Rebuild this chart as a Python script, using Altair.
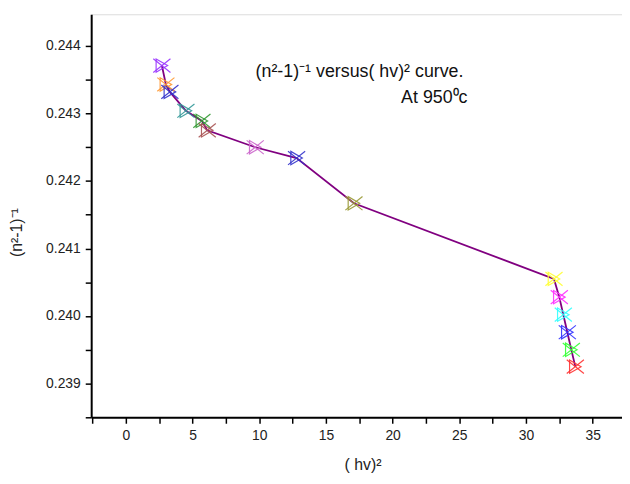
import altair as alt
import pandas as pd

hv2 = [2.7, 3.0, 3.3, 4.5, 5.7, 6.1, 9.7, 12.8, 17.1, 32.1, 32.5, 32.8, 33.1, 33.4, 33.7]
inv_n = [0.24371, 0.24343, 0.24332, 0.24304, 0.24289, 0.24275, 0.24250, 0.24234,
         0.24167, 0.24055, 0.24028, 0.24002, 0.23976, 0.23950, 0.23925]
colors = ["#9933ff", "#ff9933", "#3333cc", "#339999", "#339933", "#aa5555", "#cc66cc",
          "#3333cc", "#999933", "#ffff33", "#ff33ff", "#33ffff", "#3333ff", "#33ff33", "#ff3333"]

x_major = [0, 5, 10, 15, 20, 25, 30, 35]
x_minor = [-2.5, 2.5, 7.5, 12.5, 17.5, 22.5, 27.5, 32.5, 37.5]
y_major = [0.239, 0.240, 0.241, 0.242, 0.243, 0.244]
y_minor = [0.2385, 0.2395, 0.2405, 0.2415, 0.2425, 0.2435, 0.2445]

df = pd.DataFrame({"x": hv2, "y": inv_n, "c": colors, "i": list(range(len(hv2)))})

FONT = "Liberation Sans"
xs = alt.Scale(domain=[-2.6, 37.2], nice=False, zero=False)
ys = alt.Scale(domain=[0.2385, 0.24447], nice=False, zero=False)

common = dict(grid=False, tickSize=6, tickWidth=1.5, domainWidth=2, domainColor="#000",
              tickColor="#000", labelFont=FONT, labelFontSize=14, labelColor="#222",
              titleFont=FONT, titleFontSize=16, titleFontWeight="normal", titleColor="#222")

x_ax_major = alt.Axis(title="( hv)²", values=x_major, orient="bottom", labelPadding=5,
                      titleX=274, titleY=40, titleBaseline="top", titleAlign="center",
                      format="d", labelOverlap=False, **common)
y_ax_major = alt.Axis(title="(n²-1)⁻¹", values=y_major, orient="left", labelPadding=5,
                      titleX=-67, titleY=220, titleBaseline="bottom", titleAlign="center", titleAngle=270,
                      format=".3f", labelOverlap=False, **common)
x_ax_minor = alt.Axis(title=None, values=x_minor, orient="bottom", labels=False, domain=False,
                      grid=False, tickSize=6, tickWidth=1.5, tickColor="#000")
y_ax_minor = alt.Axis(title=None, values=y_minor, orient="left", labels=False, domain=False,
                      grid=False, tickSize=6, tickWidth=1.5, tickColor="#000")

base = alt.Chart(df)
line = base.mark_line(color="#800080", strokeWidth=1.8).encode(
    x=alt.X("x:Q", scale=xs, axis=x_ax_major), y=alt.Y("y:Q", scale=ys, axis=y_ax_major), order="i:Q")
tri = base.mark_point(shape="triangle-right", filled=False, size=180, strokeWidth=1.2, opacity=0.9).encode(
    x=alt.X("x:Q", scale=xs, axis=x_ax_minor), y=alt.Y("y:Q", scale=ys, axis=y_ax_minor),
    color=alt.Color("c:N", scale=None))
xmark = base.mark_point(shape="M-1,-0.8L1,0.8M-1,0.8L1,-0.8", filled=False, size=300, strokeWidth=1.2, opacity=0.9).encode(
    x=alt.X("x:Q", scale=xs, axis=None), y=alt.Y("y:Q", scale=ys, axis=None),
    color=alt.Color("c:N", scale=None))

t1 = alt.Chart(pd.DataFrame({"t": ["(n²-1)⁻¹ versus( hv)² curve."]})).mark_text(
    align="left", baseline="alphabetic", font=FONT, fontSize=18, color="#111").encode(
    text="t:N", x=alt.value(166), y=alt.value(63))
t2 = alt.Chart(pd.DataFrame({"t": ["At 950⁰c"]})).mark_text(
    align="right", baseline="alphabetic", font=FONT, fontSize=18, color="#111").encode(
    text="t:N", x=alt.value(380), y=alt.value(90))

chart = alt.layer(line, tri, xmark, t1, t2).resolve_axis(
    x="independent", y="independent"
).properties(
    width=536, height=407,
    autosize=alt.AutoSizeParams(type="none"),
    padding={"left": 84, "top": 4, "right": 0, "bottom": 60},
).configure_view(stroke=None).configure(background="white")

chart.save("out.html", embed_options={"renderer": "svg", "actions": False})
